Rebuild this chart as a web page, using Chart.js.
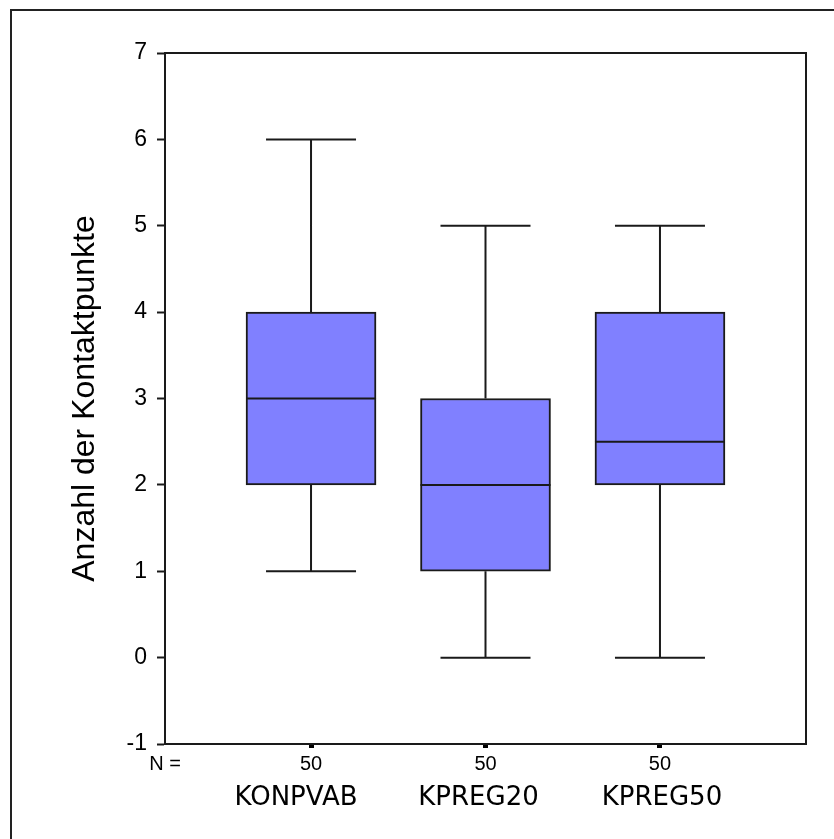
<!DOCTYPE html>
<html>
<head>
<meta charset="utf-8">
<script src="https://cdn.jsdelivr.net/npm/chart.js@4"></script>
<style>
  html, body { margin: 0; padding: 0; background: #fff; }
  #frame { position: absolute; left: 10px; top: 9px; width: 900px; height: 900px;
           border-left: 2px solid #222; border-top: 2px solid #222; }
  #wrap { position: absolute; left: 0; top: 0; width: 834px; height: 839px; }
</style>
</head>
<body>
<div id="frame"></div>
<div id="wrap"><canvas id="boxChart"></canvas></div>
<script>
// Boxplot-Kennwerte je Variable
const labels = ["KONPVAB", "KPREG20", "KPREG50"];
const minimum = [1, 0, 0];
const quartil1 = [2, 1, 2];
const median = [3, 2, 2.5];
const quartil3 = [4, 3, 4];
const maximum = [6, 5, 5];
const nCount = [50, 50, 50];
const yTicks = [-1, 0, 1, 2, 3, 4, 5, 6, 7];

const lineColor = '#1a1a1a';
const nameShift = [-15, -7, 2];

let whiskers = [];
for (let i = 0; i < labels.length; i++) {
    whiskers.push({x: i + 1, y: quartil3[i]}, {x: i + 1, y: maximum[i]}, {x: i + 1, y: null});
    whiskers.push({x: i + 1, y: quartil1[i]}, {x: i + 1, y: minimum[i]}, {x: i + 1, y: null});
}

// Rahmen um die Plotfläche + Variablennamen
const extras = {
    id: 'extras',
    afterDraw(chart) {
        const c = chart.ctx, a = chart.chartArea, xs = chart.scales.x;
        c.save();
        c.strokeStyle = lineColor;
        c.lineWidth = 2;
        c.beginPath();
        c.moveTo(a.left, a.top);
        c.lineTo(a.right, a.top);
        c.lineTo(a.right, a.bottom);
        c.stroke();
        c.fillStyle = '#000';
        c.font = '26px "DejaVu Sans"';
        c.textAlign = 'center';
        c.textBaseline = 'middle';
        labels.forEach(function (l, i) {
            c.fillText(l, xs.getPixelForValue(i + 1) + nameShift[i], 798);
        });
        c.restore();
    }
};

var ctx = document.getElementById("boxChart");
var boxChart = new Chart(ctx, {
    type: 'bar',
    data: {
        datasets: [{
            type: 'scatter',
            label: 'Median',
            data: median.map((v, i) => ({x: i + 1, y: v})),
            pointStyle: 'line',
            pointRadius: 65,
            pointHoverRadius: 65,
            pointBorderWidth: 2,
            borderColor: lineColor
        }, {
            type: 'bar',
            label: 'Box',
            data: labels.map((l, i) => ({x: i + 1, y: [quartil1[i], quartil3[i]]})),
            backgroundColor: '#8080ff',
            borderColor: lineColor,
            borderWidth: 2,
            borderSkipped: false,
            barThickness: 130
        }, {
            type: 'scatter',
            label: 'Enden',
            data: maximum.map((v, i) => ({x: i + 1, y: v})).concat(minimum.map((v, i) => ({x: i + 1, y: v}))),
            pointStyle: 'line',
            pointRadius: 45,
            pointHoverRadius: 45,
            pointBorderWidth: 2,
            borderColor: lineColor
        }, {
            type: 'line',
            label: 'Whisker',
            data: whiskers,
            borderColor: lineColor,
            borderWidth: 2,
            pointRadius: 0,
            spanGaps: false
        }]
    },
    options: {
        responsive: true,
        maintainAspectRatio: false,
        animation: false,
        layout: { autoPadding: false, padding: { left: 0, right: 28, top: 53, bottom: 0 } },
        plugins: { legend: { display: false }, tooltip: { enabled: false } },
        scales: {
            x: {
                type: 'linear',
                offset: false,
                min: 0.163,
                max: 3.837,
                afterBuildTicks: function (scale) {
                    scale.ticks = [{value: scale.min}].concat(labels.map((l, i) => ({value: i + 1})));
                },
                afterFit: function (scale) { scale.height = 95; },
                grid: {
                    offset: false,
                    drawOnChartArea: false,
                    tickLength: 4,
                    tickWidth: 5,
                    tickColor: function (c) { return c.index === 0 ? 'rgba(0,0,0,0)' : '#000'; }
                },
                border: { color: lineColor, width: 2 },
                ticks: {
                    autoSkip: false,
                    maxRotation: 0,
                    padding: 4,
                    color: '#000',
                    font: { family: '"Liberation Sans", Arial', size: 20 },
                    callback: function (value, index) {
                        return index === 0 ? 'N =' : String(nCount[index - 1]);
                    }
                }
            },
            y: {
                min: -1,
                max: 7,
                afterBuildTicks: function (scale) {
                    scale.ticks = yTicks.map(v => ({value: v}));
                },
                afterFit: function (scale) { scale.width = 165; },
                grid: { drawOnChartArea: false, tickLength: 8, tickWidth: 2, tickColor: lineColor },
                border: { color: lineColor, width: 2 },
                ticks: {
                    padding: 10,
                    color: '#000',
                    font: { family: '"Liberation Sans", Arial', size: 23 }
                },
                title: {
                    display: true,
                    text: 'Anzahl der Kontaktpunkte',
                    color: '#000',
                    font: { family: '"Liberation Sans", Arial', size: 32, lineHeight: 1 },
                    padding: { top: 69, bottom: 0 }
                }
            }
        }
    },
    plugins: [extras]
});
</script>
</body>
</html>
